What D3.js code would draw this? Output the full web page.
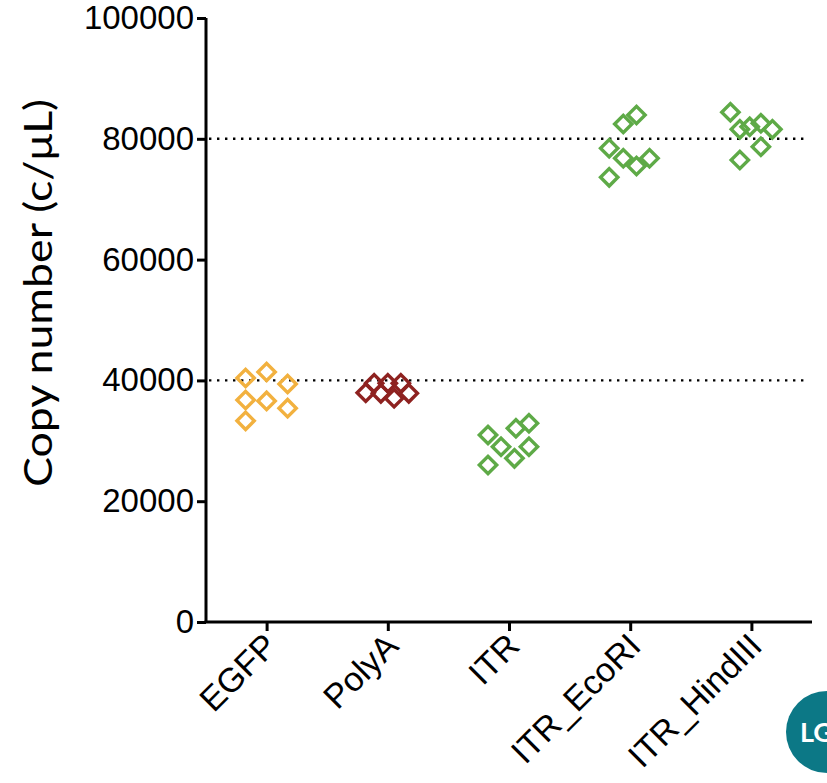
<!DOCTYPE html>
<html>
<head>
<meta charset="utf-8">
<script src="https://cdn.jsdelivr.net/npm/d3@7"></script>
<style>
  body { margin: 0; background: #fff; }
  svg { display: block; font-family: Lato, "Open Sans", sans-serif; }
</style>
</head>
<body>
<svg class="chart" width="827" height="783"></svg>
<script>
// categories on the x axis
const targets = ['EGFP', 'PolyA', 'ITR', 'ITR_EcoRI', 'ITR_HindIII'];
const colors = ['#F2B13F', '#8E2220', '#5EAA47', '#5EAA47', '#5EAA47'];

// replicate copy numbers per target (c/uL)
const egfp = [40400, 41400, 39400, 36750, 36600, 35400, 33300];
const polyA = [37960, 39520, 37860, 39520, 37040, 39520, 37860];
const itr = [30960, 32070, 32900, 29020, 29020, 27100, 25990];
const itrEcoRI = [82450, 83940, 78430, 76770, 75500, 76770, 73620];
const itrHindIII = [84390, 81570, 82000, 82570, 81570, 78690, 76490];

// horizontal scatter of each replicate inside its column (-1 .. 1)
const egfpJit = [-1, 0, 1, -1, 0, 1, -1];
const polyAJit = [-1.05, -0.65, -0.33, 0, 0.3, 0.62, 1];
const itrJit = [-1, 0.33, 0.95, -0.38, 0.95, 0.26, -1];
const itrEcoRIJit = [-0.33, 0.3, -1, -0.33, 0.3, 0.92, -1];
const itrHindIIIJit = [-1, -0.55, -0.08, 0.45, 1, 0.45, -0.55];

const yTicks = [0, 20000, 40000, 60000, 80000, 100000];
const refLines = [40000, 80000];

const series = [egfp, polyA, itr, itrEcoRI, itrHindIII];
const jitters = [egfpJit, polyAJit, itrJit, itrEcoRIJit, itrHindIIIJit];

const points = [];
series.forEach((vals, i) => {
    vals.forEach((v, j) => points.push({ target: targets[i], value: v, jit: jitters[i][j], color: colors[i] }));
});

const svg = d3.select('.chart');
const margin = { top: 18, right: 15, bottom: 161, left: 206 };
const width = +svg.attr('width');
const height = +svg.attr('height');
const innerWidth = width - margin.left - margin.right;
const innerHeight = height - margin.top - margin.bottom;

const xScale = d3.scalePoint()
    .domain(targets)
    .range([0, innerWidth])
    .padding(0.5);

const jitScale = d3.scaleLinear()
    .domain([-1, 1])
    .range([-21, 21]);

const yScale = d3.scaleLinear()
    .domain([0, 100000])
    .range([innerHeight, 0]);

const g = svg.append('g')
    .attr('transform', `translate(${margin.left}, ${margin.top})`);

// dotted reference lines
g.selectAll('.ref')
    .data(refLines)
    .join('line')
    .attr('class', 'ref')
    .attr('x1', 3)
    .attr('x2', innerWidth - 6)
    .attr('y1', d => yScale(d))
    .attr('y2', d => yScale(d))
    .attr('stroke', '#000')
    .attr('stroke-width', 2.4)
    .attr('stroke-dasharray', '2.4 5.6');

// y axis
const yAxis = g.append('g')
    .call(d3.axisLeft(yScale).tickValues(yTicks).tickFormat(d3.format('d')).tickSize(9).tickPadding(3));
yAxis.select('.domain').attr('stroke-width', 3).attr('d', `M0,${innerHeight}V0`);
yAxis.selectAll('.tick line').attr('stroke-width', 3);
yAxis.selectAll('.tick text').attr('font-size', 33).attr('fill', '#000');

// x axis
const xAxis = g.append('g')
    .attr('transform', `translate(0, ${innerHeight})`)
    .call(d3.axisBottom(xScale).tickSize(9).tickSizeOuter(0));
xAxis.select('.domain').attr('stroke-width', 3).attr('d', `M-1.5,0H${innerWidth}`);
xAxis.selectAll('.tick line').attr('stroke-width', 3);
xAxis.selectAll('.tick text')
    .attr('font-size', 34)
    .attr('fill', '#000')
    .attr('text-anchor', 'end')
    .attr('dy', 0)
    .attr('transform', 'translate(12, 26) rotate(-45)')
    .attr('y', 0)
    .attr('x', 0);

// axis title
g.append('text')
    .attr('transform', `translate(-154, ${innerHeight / 2 - 27}) rotate(-90)`)
    .attr('text-anchor', 'middle')
    .attr('font-size', 39)
    .attr('fill', '#000')
    .attr('textLength', 388)
    .attr('lengthAdjust', 'spacingAndGlyphs')
    .text('Copy number (c/μL)');

// open diamonds
const diamond = d3.symbol().type(d3.symbolSquare).size(150);
g.append('g')
    .selectAll('path')
    .data(points)
    .join('path')
    .attr('d', diamond)
    .attr('transform', d => `translate(${xScale(d.target) + jitScale(d.jit)}, ${yScale(d.value)}) rotate(45)`)
    .attr('fill', 'none')
    .attr('stroke', d => d.color)
    .attr('stroke-width', 3.4);

// corner badge
const badge = svg.append('g').attr('transform', 'translate(827, 732)');
badge.append('circle').attr('r', 41).attr('fill', '#0C7886');
badge.append('text')
    .attr('x', -27)
    .attr('y', 10)
    .attr('font-size', 27)
    .attr('font-weight', 'bold')
    .attr('fill', '#fff')
    .text('LG');
</script>
</body>
</html>
